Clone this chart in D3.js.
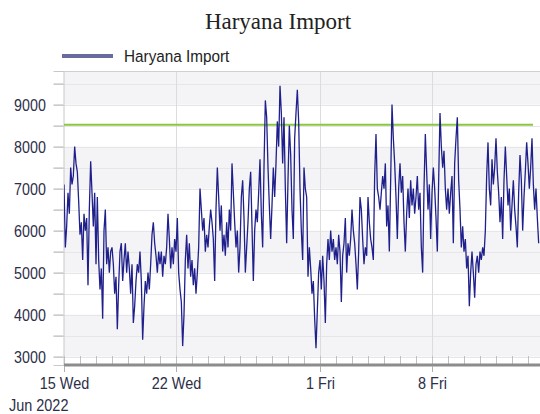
<!DOCTYPE html>
<html>
<head>
<meta charset="utf-8">
<script src="https://cdnjs.cloudflare.com/ajax/libs/d3/7.8.5/d3.min.js"></script>
<style>
body { margin: 0; background: #fff; }
svg { display: block; font-family: "Liberation Sans", Arial, sans-serif; }
</style>
</head>
<body>
<div id="chart"></div>
<script>
// chart data
var chartTitle = "Haryana Import";
var seriesName = "Haryana Import";
var startDate = Date.UTC(2022, 5, 15);
var stepHours = 2;

// one value every 2 hours from 15 Jun 00:00
var importValues = [
    7100, 5600, 6100, 6900, 6400, 7500, 7100, 7300, 8000, 7600, 7400, 6700,
    5900, 6200, 5300, 6400, 6000, 6300, 4700, 6500, 7650, 6900, 6100, 6900,
    5200, 6800, 5300, 4600, 5100, 3900, 6000, 6500, 5200, 5600, 5000, 5500,
    5600, 5200, 4500, 4900, 3650, 4700, 5500, 5700, 4800, 5300, 5700, 5000,
    5500, 5100, 4500, 5200, 3800, 4200, 4800, 5200, 5000, 5500, 4800, 3400,
    4200, 4800, 4500, 5000, 4600, 5200, 5900, 6200, 5700, 5400, 5000, 5500,
    5200, 5500, 4900, 5400, 5200, 5600, 6400, 5800, 5100, 5600, 5200, 5800,
    5500, 6300, 5000, 4600, 4300, 3250, 4000, 5300, 5900, 5100, 5700, 4900,
    5300, 4700, 5100, 4500, 5000, 5600, 7000, 6500, 6000, 6300, 5500, 5900,
    5600, 6100, 6500, 6200, 5800, 4800, 6500, 7500, 6800, 6000, 6600, 5500,
    5900, 5400, 6200, 5600, 6500, 6000, 7600, 6900, 6200, 5600, 6000, 5000,
    5600, 6800, 7200, 6300, 5000, 5600, 6200, 7000, 7400, 6100, 4800, 6000,
    6500, 6200, 6900, 7700, 6400, 5600, 7500, 9100, 8700, 7500, 6600, 5800,
    6600, 7500, 6800, 7600, 8600, 8000, 9450, 8800, 7600, 8700, 7000, 5700,
    7200, 8500, 7800, 6500, 5800, 8200, 8800, 9350, 8600, 7000, 6000, 5300,
    7500, 7000, 6800, 4900, 5600, 5100, 4500, 4800, 3900, 3200, 4100, 5000,
    5300, 4600, 5400, 4800, 3800, 5200, 5800, 5300, 6000, 5500, 5800, 5300,
    5600, 5200, 5900, 5500, 4300, 5400, 5700, 6300, 5000, 5700, 5400, 5800,
    6500, 6000, 5700, 5200, 4600, 5500, 6800, 6500, 5800, 5200, 5600, 5400,
    6800, 6200, 5800, 5600, 5300, 7300, 8300, 7000, 6800, 6500, 6900, 7300,
    7000, 7600, 6100, 6600, 5500, 7200, 9000, 8200, 7600, 6800, 5800, 7000,
    7600, 6900, 7300, 6200, 5500, 6400, 7000, 6300, 7200, 6600, 7000, 6400,
    6800, 7300, 6500, 6900, 5600, 5000, 7000, 8300, 7400, 6500, 7100, 5800,
    6900, 7500, 7000, 6300, 5500, 7200, 8800, 8000, 7500, 7900, 7000, 6500,
    7000, 6400, 6900, 7300, 5700, 7600, 8200, 8700, 7200, 6500, 5600, 6100,
    5500, 5800, 5100, 5400, 4200, 5000, 5500, 5000, 4400, 5200, 5400, 5000,
    5500, 5300, 5600, 5400, 6000, 7300, 8100, 7000, 6600, 7700, 7100, 7500,
    8200, 7400, 6900, 6200, 6800, 5800, 7200, 8000, 7300, 6600, 7000, 6000,
    6600, 7200, 6500, 6100, 5600, 6900, 7800, 7200, 6000, 6800, 7400, 8100,
    7600, 7000, 7500, 8200, 7100, 6500, 7000, 6300, 5700
];

var limitValue = 8520;
var limitDates = [Date.UTC(2022, 5, 15, 0), Date.UTC(2022, 6, 14, 7, 30)];

var yTickValues = [3000, 4000, 5000, 6000, 7000, 8000, 9000];
var xTickDates = [Date.UTC(2022, 5, 15), Date.UTC(2022, 5, 22), Date.UTC(2022, 6, 1), Date.UTC(2022, 6, 8)];
var xTickLabels = ["15 Wed", "22 Wed", "1 Fri", "8 Fri"];
var yearLabel = "Jun 2022";

var width = 540;
var height = 414;
var plotLeft = 64, plotRight = 540, plotTop = 71, plotBottom = 365;

var data = importValues.map(function (v, i) {
    return { t: new Date(startDate + i * stepHours * 3600000), v: v };
});

var x = d3.scaleUtc()
    .domain([new Date(startDate), new Date(startDate + 29.75 * 86400000)])
    .range([plotLeft, plotRight]);

var y = d3.scaleLinear()
    .domain([2800, 9800])
    .range([plotBottom, plotTop]);

var svg = d3.select("#chart")
    .append("svg")
    .attr("width", width)
    .attr("height", height);

// background bands, grey every other 1000
var bands = [[9000, 9800], [7000, 8000], [5000, 6000], [3000, 4000]];
svg.selectAll(".band")
    .data(bands)
    .enter().append("rect")
    .attr("class", "band")
    .attr("x", plotLeft)
    .attr("width", plotRight - plotLeft)
    .attr("y", function (d) { return y(d[1]); })
    .attr("height", function (d) { return y(d[0]) - y(d[1]); })
    .style("fill", "#f4f4f6");

// horizontal grid every 500
var halfSteps = d3.range(3000, 9501, 500);
svg.selectAll(".hgrid")
    .data(halfSteps)
    .enter().append("line")
    .attr("x1", plotLeft)
    .attr("x2", plotRight)
    .attr("y1", function (d) { return Math.round(y(d)) + 0.5; })
    .attr("y2", function (d) { return Math.round(y(d)) + 0.5; })
    .style("stroke", "#e6e6e8");

// vertical grid at week ticks
svg.selectAll(".vgrid")
    .data(xTickDates.slice(1))
    .enter().append("line")
    .attr("x1", function (d) { return Math.round(x(new Date(d))) + 0.5; })
    .attr("x2", function (d) { return Math.round(x(new Date(d))) + 0.5; })
    .attr("y1", plotTop)
    .attr("y2", plotBottom)
    .style("stroke", "#dcdcde");

// top border
svg.append("line")
    .attr("x1", plotLeft).attr("x2", plotRight)
    .attr("y1", plotTop + 0.5).attr("y2", plotTop + 0.5)
    .style("stroke", "#d0d0d0");

// y axis
var yAxis = d3.axisLeft(y)
    .tickValues(halfSteps)
    .tickSize(10)
    .tickPadding(8)
    .tickFormat(function (d) { return yTickValues.indexOf(d) >= 0 ? d : ""; });

var gy = svg.append("g")
    .attr("transform", "translate(" + (plotLeft - 0.5) + ",0)")
    .call(yAxis);
gy.select(".domain").style("stroke", "#c8c8c8");
gy.selectAll(".tick line").style("stroke", "#a8a8a8");
gy.selectAll(".tick text")
    .attr("x", -21)
    .attr("transform", "scale(0.84,1)")
    .style("font-size", "17px")
    .style("fill", "#2e2e48");

svg.append("clipPath").attr("id", "plotclip")
    .append("rect")
    .attr("x", plotLeft).attr("y", plotTop)
    .attr("width", plotRight - plotLeft).attr("height", plotBottom - plotTop);

// limit line
svg.append("line")
    .attr("x1", x(new Date(limitDates[0])))
    .attr("x2", x(new Date(limitDates[1])))
    .attr("y1", y(limitValue))
    .attr("y2", y(limitValue))
    .style("stroke", "#8cc63f")
    .style("stroke-width", 2);

// series
var line = d3.line()
    .x(function (d) { return x(d.t); })
    .y(function (d) { return y(d.v); });

svg.append("path")
    .datum(data)
    .attr("clip-path", "url(#plotclip)")
    .attr("d", line)
    .style("fill", "none")
    .style("stroke", "#20208c")
    .style("stroke-width", 1.3)
    .style("stroke-linejoin", "miter");

// x axis: day ticks going up, thick base line
var days = d3.utcDay.range(new Date(startDate), x.domain()[1]);
svg.selectAll(".dtick")
    .data(days)
    .enter().append("line")
    .attr("x1", function (d) { return Math.round(x(d)) + 0.5; })
    .attr("x2", function (d) { return Math.round(x(d)) + 0.5; })
    .attr("y1", plotBottom - 9)
    .attr("y2", plotBottom - 1)
    .style("stroke", "#c0c0c0");

svg.append("line")
    .attr("x1", plotLeft).attr("x2", plotRight)
    .attr("y1", plotBottom).attr("y2", plotBottom)
    .style("stroke", "#8c8c8c")
    .style("stroke-width", 3);

var xAxis = d3.axisBottom(x)
    .tickValues(xTickDates.map(function (d) { return new Date(d); }))
    .tickSize(6)
    .tickPadding(4)
    .tickFormat(function (d, i) { return xTickLabels[i]; });

var gx = svg.append("g")
    .attr("transform", "translate(0," + (plotBottom + 1) + ")")
    .call(xAxis);
gx.select(".domain").remove();
gx.selectAll(".tick line").style("stroke", "#b0b0b0");
gx.selectAll(".tick text")
    .attr("y", 0)
    .attr("dy", 0)
    .attr("transform", "translate(0,23) scale(0.85,1)")
    .style("font-size", "17px")
    .style("fill", "#2e2e48");

svg.append("text")
    .attr("transform", "translate(9,411) scale(0.85,1)")
    .style("font-size", "17px")
    .style("fill", "#2e2e48")
    .text(yearLabel);

// title
svg.append("text")
    .attr("x", 278)
    .attr("y", 29)
    .attr("text-anchor", "middle")
    .style("font-family", "'Liberation Serif', 'Times New Roman', serif")
    .style("font-size", "23px")
    .style("fill", "#222")
    .text(chartTitle);

// legend
svg.append("line")
    .attr("x1", 62).attr("x2", 113)
    .attr("y1", 56).attr("y2", 56)
    .style("stroke", "#6a6a9e")
    .style("stroke-width", 4);

svg.append("text")
    .attr("transform", "translate(124,62) scale(0.9,1)")
    .style("font-size", "17px")
    .style("fill", "#222")
    .text(seriesName);
</script>
</body>
</html>
